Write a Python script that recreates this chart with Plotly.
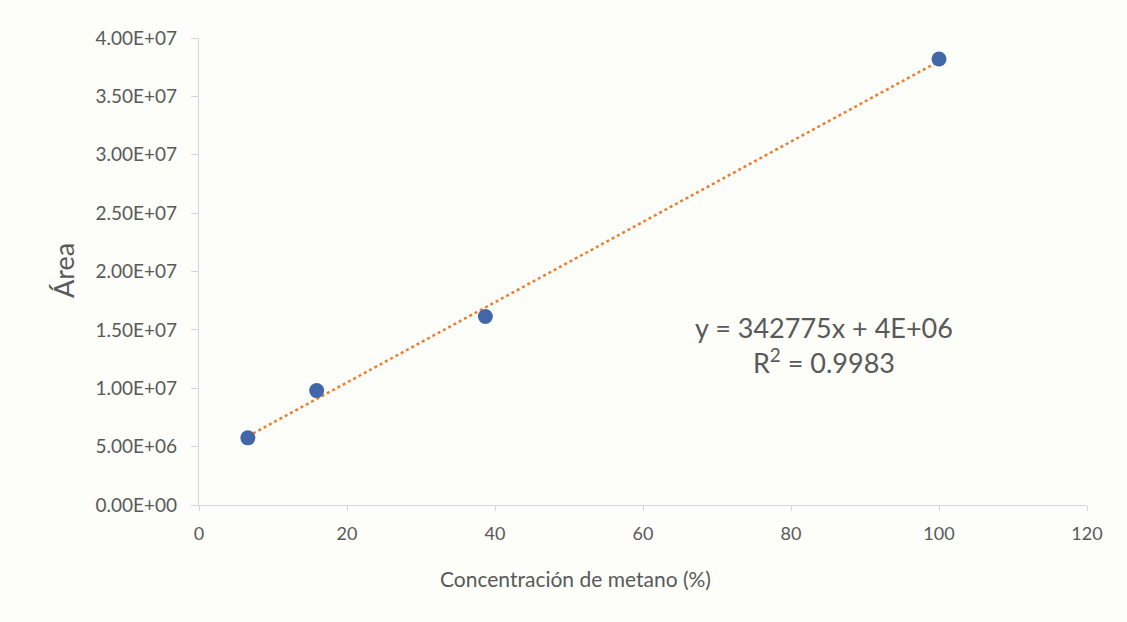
import numpy as np
import plotly.graph_objects as go

# Calibration data: methane concentration (%) vs. chromatographic peak area
concentracion = [6.6, 15.9, 38.7, 100.0]
area = [5.75e6, 9.8e6, 1.615e7, 3.82e7]

y_ticks = [0, 5e6, 1e7, 1.5e7, 2e7, 2.5e7, 3e7, 3.5e7, 4e7]
y_labels = ["0.00E+00", "5.00E+06", "1.00E+07", "1.50E+07", "2.00E+07",
            "2.50E+07", "3.00E+07", "3.50E+07", "4.00E+07"]
x_ticks = [0, 20, 40, 60, 80, 100, 120]

ecuacion = "y = 342775x + 4E+06<br>R<sup>2</sup> = 0.9983"
titulo_x = "Concentración de metano (%)"
titulo_y = "Área"

# Linear trend line over the measured range
pend, inter = np.polyfit(concentracion, area, 1)
x_fit = np.linspace(min(concentracion), max(concentracion), 50)
y_fit = pend * x_fit + inter

font_family = "Lato, 'Open Sans', sans-serif"
grey = "#595959"

fig = go.Figure()
fig.add_trace(go.Scatter(
    x=x_fit, y=y_fit, mode="lines",
    line=dict(color="#ED7D31", width=2.5, dash="dot"),
    hoverinfo="skip", showlegend=False,
))
fig.add_trace(go.Scatter(
    x=concentracion, y=area, mode="markers",
    marker=dict(color="#4267A8", size=15),
    showlegend=False,
))

# Regression equation
fig.add_annotation(
    x=84.5, y=1.37e7, xref="x", yref="y", text=ecuacion, showarrow=False,
    font=dict(family=font_family, size=27, color=grey), align="center",
)

# Axis titles
fig.add_annotation(
    x=575, y=622 - 578, xref="paper", yref="paper", text=titulo_x,
    showarrow=False, font=dict(family=font_family, size=21, color=grey),
    xanchor="center", yanchor="middle",
)
fig.add_annotation(
    x=63, y=622 - 271, xref="paper", yref="paper", text=titulo_y,
    showarrow=False, textangle=-90,
    font=dict(family=font_family, size=27, color=grey),
    xanchor="center", yanchor="middle",
)

fig.update_layout(
    width=1127, height=622,
    margin=dict(l=199, r=40, t=38, b=117),
    paper_bgcolor="#fdfdfa", plot_bgcolor="#fdfdfa",
    font=dict(family=font_family, color=grey),
    xaxis=dict(
        range=[0, 120], tickvals=x_ticks, showgrid=False, zeroline=False,
        showline=True, linecolor="#d6d6d6", linewidth=1.2,
        ticks="outside", ticklen=5, tickcolor="#d6d6d6",
        ticklabelstandoff=7,
        tickfont=dict(size=18, color=grey),
    ),
    yaxis=dict(
        range=[0, 4e7], tickvals=y_ticks, ticktext=y_labels, showgrid=False,
        zeroline=False, showline=True, linecolor="#d6d6d6", linewidth=1.2,
        ticks="outside", ticklen=7, tickcolor="#d6d6d6",
        ticklabelstandoff=10,
        tickfont=dict(size=19, color=grey),
    ),
)

# Convert the pixel positions of the axis titles into paper fractions
plot_w = 1127 - 199 - 40
plot_h = 622 - 38 - 117
for ann in fig.layout.annotations[1:]:
    ann.x = (ann.x - 199) / plot_w
    ann.y = (ann.y - 117) / plot_h

fig.write_html("out.html")
